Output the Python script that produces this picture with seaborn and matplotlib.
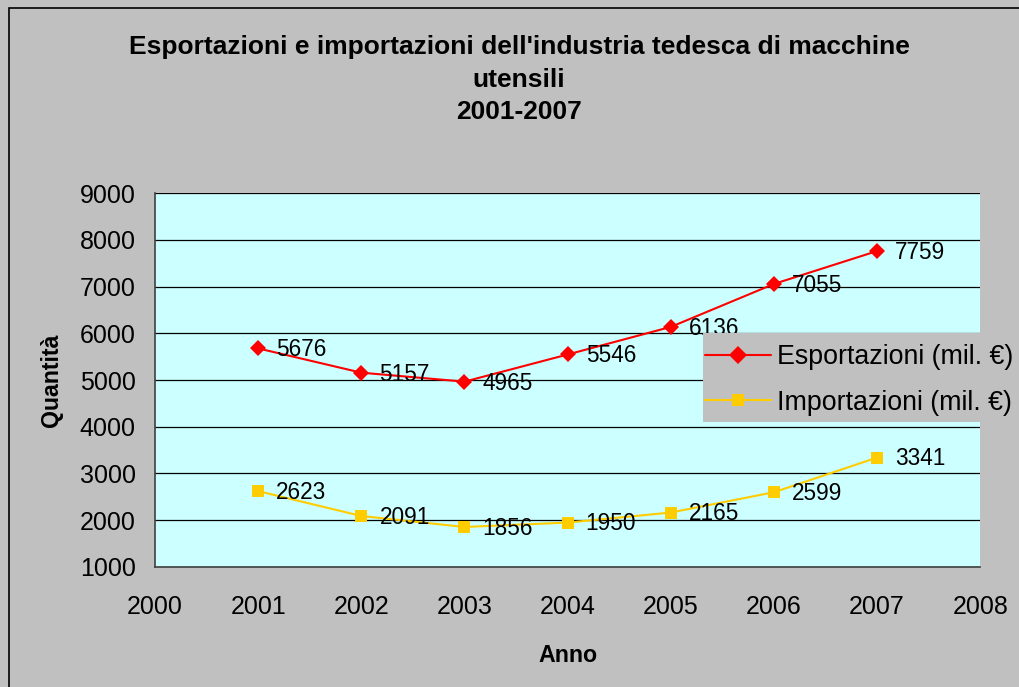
import pandas as pd
import matplotlib
matplotlib.use("Agg")
import matplotlib.pyplot as plt
import seaborn as sns
from matplotlib.patches import Rectangle

# dati
anni = [2001, 2002, 2003, 2004, 2005, 2006, 2007]
esportazioni = [5676, 5157, 4965, 5546, 6136, 7055, 7759]
importazioni = [2623, 2091, 1856, 1950, 2165, 2599, 3341]
serie = ["Esportazioni (mil. €)", "Importazioni (mil. €)"]

df = pd.DataFrame({
    "Anno": anni * 2,
    "Quantità": esportazioni + importazioni,
    "Serie": [serie[0]] * len(anni) + [serie[1]] * len(anni),
})

sns.set_style("white")
plt.rcParams["font.family"] = ["Liberation Sans", "DejaVu Sans"]
plt.rcParams["text.color"] = "black"
plt.rcParams["axes.labelcolor"] = "black"
plt.rcParams["xtick.color"] = "black"
plt.rcParams["ytick.color"] = "black"

fig = plt.figure(figsize=(10.2, 6.87), dpi=100, facecolor="#C0C0C0")
ax = fig.add_axes([0.152, 0.1747, 0.809, 0.5443])
ax.set_facecolor("#CCFFFF")

# bordo della figura
fig.patches.append(Rectangle((9 / 1020, -0.01), 1.0, 1 - 8 / 687 + 0.01,
                             transform=fig.transFigure, fill=False,
                             edgecolor="black", linewidth=1.2))

sns.lineplot(data=df, x="Anno", y="Quantità", hue="Serie", style="Serie",
             palette=["#FF0000", "#FFCC00"], markers=["D", "s"], dashes=False,
             markersize=9, markeredgewidth=0, linewidth=1.5, ax=ax, zorder=3)
ax.lines[0].set_markersize(8)

# etichette dei valori
for x, y in zip(anni, esportazioni):
    ax.annotate(str(y), (x, y), xytext=(13, -1), textcoords="offset points",
                ha="left", va="center", fontsize=16.3)
for x, y in zip(anni, importazioni):
    ax.annotate(str(y), (x, y), xytext=(13, -1), textcoords="offset points",
                ha="left", va="center", fontsize=16.3)

ax.set_xlim(2000, 2008)
ax.set_ylim(1000, 9000)
ax.set_xticks(range(2000, 2009))
ax.set_yticks(range(1000, 9001, 1000))
ax.tick_params(axis="both", labelsize=18, direction="out", length=6,
               color="#404040", width=1)
ax.tick_params(axis="x", pad=14)
ax.tick_params(axis="y", pad=8)
ax.yaxis.grid(True, color="black", linewidth=0.9)
ax.xaxis.grid(False)
for s in ["top", "right"]:
    ax.spines[s].set_visible(False)
for s in ["left", "bottom"]:
    ax.spines[s].set_color("#404040")
    ax.spines[s].set_linewidth(1.2)

ax.set_xlabel("Anno", fontsize=16.7, fontweight="bold", labelpad=18)
ax.set_ylabel("Quantità", fontsize=16.7, fontweight="bold", labelpad=12)

fig.suptitle("Esportazioni e importazioni dell'industria tedesca di macchine\nutensili\n2001-2007",
             x=0.509, y=0.949, fontsize=19, fontweight="bold", linespacing=1.45,
             color="black")

# legenda su riquadro grigio
handles, labels = ax.get_legend_handles_labels()
ax.get_legend().remove()
fig.patches.append(Rectangle((703 / 1020, 1 - 422 / 687), 1.0, 89 / 687,
                             transform=fig.transFigure, facecolor="#C0C0C0",
                             edgecolor="none", zorder=2))
fig.legend(handles, labels, loc="upper left",
           bbox_to_anchor=(705 / 1020, 1 - 344 / 687), fontsize=19.3,
           frameon=False, handlelength=2.45, handletextpad=0.22,
           borderpad=0, borderaxespad=0, labelspacing=0.74)

fig.savefig("out.png", dpi=100, facecolor=fig.get_facecolor())
